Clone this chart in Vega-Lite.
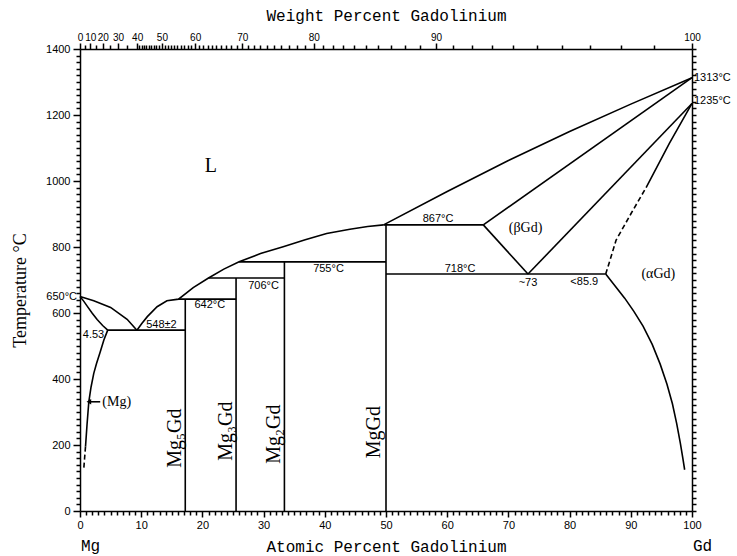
{
  "$schema": "https://vega.github.io/schema/vega-lite/v6.json",
  "width": 612,
  "height": 462,
  "autosize": {"type": "none"},
  "padding": {"left": 80, "top": 49, "right": 45, "bottom": 45},
  "background": "white",
  "config": {
    "view": {"stroke": null},
    "axis": {
      "grid": false,
      "domainColor": "black",
      "domainWidth": 1.5,
      "tickColor": "black",
      "labelColor": "black",
      "labelFont": "Liberation Sans",
      "labelFontSize": 11,
      "labelFlush": false,
      "labelOverlap": false,
      "titleColor": "black",
      "titleFontWeight": "normal"
    }
  },
  "datasets": {
    "solid": [
      {"seg": "mgLiq", "i": 0, "x": 0, "T": 650},
      {"seg": "mgLiq", "i": 1, "x": 2.25, "T": 637},
      {"seg": "mgLiq", "i": 2, "x": 5.0, "T": 617},
      {"seg": "mgLiq", "i": 3, "x": 7.7, "T": 581},
      {"seg": "mgLiq", "i": 4, "x": 9.3, "T": 548},
      {"seg": "mgSol", "i": 0, "x": 0, "T": 650},
      {"seg": "mgSol", "i": 1, "x": 0.6, "T": 636},
      {"seg": "mgSol", "i": 2, "x": 1.2, "T": 620},
      {"seg": "mgSol", "i": 3, "x": 2.0, "T": 599},
      {"seg": "mgSol", "i": 4, "x": 2.8, "T": 580},
      {"seg": "mgSol", "i": 5, "x": 3.7, "T": 562},
      {"seg": "mgSol", "i": 6, "x": 4.53, "T": 548},
      {"seg": "mgSolvus", "i": 0, "x": 4.53, "T": 548},
      {"seg": "mgSolvus", "i": 1, "x": 3.9, "T": 518},
      {"seg": "mgSolvus", "i": 2, "x": 3.3, "T": 482},
      {"seg": "mgSolvus", "i": 3, "x": 2.7, "T": 447},
      {"seg": "mgSolvus", "i": 4, "x": 2.25, "T": 417},
      {"seg": "mgSolvus", "i": 5, "x": 1.8, "T": 375},
      {"seg": "mgSolvus", "i": 6, "x": 1.44, "T": 331},
      {"seg": "mgSolvus", "i": 7, "x": 1.15, "T": 262},
      {"seg": "mgSolvus", "i": 8, "x": 0.9, "T": 195},
      {"seg": "eut548", "i": 0, "x": 4.53, "T": 548},
      {"seg": "eut548", "i": 1, "x": 17.2, "T": 548},
      {"seg": "liq", "i": 0, "x": 9.3, "T": 548},
      {"seg": "liq", "i": 1, "x": 10.1, "T": 568},
      {"seg": "liq", "i": 2, "x": 11.0, "T": 589},
      {"seg": "liq", "i": 3, "x": 12.6, "T": 619},
      {"seg": "liq", "i": 4, "x": 14.2, "T": 637},
      {"seg": "liq", "i": 5, "x": 16.1, "T": 642},
      {"seg": "liq", "i": 6, "x": 18.5, "T": 677},
      {"seg": "liq", "i": 7, "x": 21.0, "T": 706},
      {"seg": "liq", "i": 8, "x": 23.5, "T": 733},
      {"seg": "liq", "i": 9, "x": 26.0, "T": 755},
      {"seg": "liq", "i": 10, "x": 29.5, "T": 780},
      {"seg": "liq", "i": 11, "x": 33.2, "T": 801},
      {"seg": "liq", "i": 12, "x": 36.8, "T": 822},
      {"seg": "liq", "i": 13, "x": 40.3, "T": 841},
      {"seg": "liq", "i": 14, "x": 44.1, "T": 854},
      {"seg": "liq", "i": 15, "x": 47.0, "T": 862},
      {"seg": "liq", "i": 16, "x": 49.6, "T": 867},
      {"seg": "p642", "i": 0, "x": 16.1, "T": 642},
      {"seg": "p642", "i": 1, "x": 25.5, "T": 642},
      {"seg": "p706", "i": 0, "x": 21.0, "T": 706},
      {"seg": "p706", "i": 1, "x": 33.4, "T": 706},
      {"seg": "p755", "i": 0, "x": 26.0, "T": 755},
      {"seg": "p755", "i": 1, "x": 50, "T": 755},
      {"seg": "e867", "i": 0, "x": 49.6, "T": 867},
      {"seg": "e867", "i": 1, "x": 65.9, "T": 867},
      {"seg": "Mg5Gd", "i": 0, "x": 17.2, "T": 0},
      {"seg": "Mg5Gd", "i": 1, "x": 17.2, "T": 642},
      {"seg": "Mg3Gd", "i": 0, "x": 25.5, "T": 0},
      {"seg": "Mg3Gd", "i": 1, "x": 25.5, "T": 706},
      {"seg": "Mg2Gd", "i": 0, "x": 33.4, "T": 0},
      {"seg": "Mg2Gd", "i": 1, "x": 33.4, "T": 755},
      {"seg": "MgGd", "i": 0, "x": 50, "T": 0},
      {"seg": "MgGd", "i": 1, "x": 50, "T": 867},
      {"seg": "e718", "i": 0, "x": 50, "T": 718},
      {"seg": "e718", "i": 1, "x": 85.9, "T": 718},
      {"seg": "liqGd", "i": 0, "x": 49.6, "T": 867},
      {"seg": "liqGd", "i": 1, "x": 60, "T": 968},
      {"seg": "liqGd", "i": 2, "x": 70, "T": 1062},
      {"seg": "liqGd", "i": 3, "x": 80, "T": 1150},
      {"seg": "liqGd", "i": 4, "x": 90, "T": 1233},
      {"seg": "liqGd", "i": 5, "x": 100, "T": 1313},
      {"seg": "solBeta", "i": 0, "x": 65.9, "T": 867},
      {"seg": "solBeta", "i": 1, "x": 100, "T": 1313},
      {"seg": "betaLow", "i": 0, "x": 65.9, "T": 867},
      {"seg": "betaLow", "i": 1, "x": 73.2, "T": 718},
      {"seg": "betaHigh", "i": 0, "x": 73.2, "T": 718},
      {"seg": "betaHigh", "i": 1, "x": 100, "T": 1235},
      {"seg": "alphaBetaTop", "i": 0, "x": 92.5, "T": 980},
      {"seg": "alphaBetaTop", "i": 1, "x": 96.3, "T": 1114},
      {"seg": "alphaBetaTop", "i": 2, "x": 100, "T": 1235},
      {"seg": "alphaSolvus", "i": 0, "x": 85.9, "T": 718},
      {"seg": "alphaSolvus", "i": 1, "x": 87.5, "T": 680},
      {"seg": "alphaSolvus", "i": 2, "x": 89.0, "T": 645},
      {"seg": "alphaSolvus", "i": 3, "x": 90.5, "T": 605},
      {"seg": "alphaSolvus", "i": 4, "x": 92.0, "T": 560},
      {"seg": "alphaSolvus", "i": 5, "x": 93.5, "T": 505},
      {"seg": "alphaSolvus", "i": 6, "x": 94.8, "T": 445},
      {"seg": "alphaSolvus", "i": 7, "x": 95.9, "T": 385},
      {"seg": "alphaSolvus", "i": 8, "x": 96.8, "T": 325},
      {"seg": "alphaSolvus", "i": 9, "x": 97.5, "T": 265},
      {"seg": "alphaSolvus", "i": 10, "x": 98.1, "T": 205},
      {"seg": "alphaSolvus", "i": 11, "x": 98.5, "T": 160},
      {"seg": "alphaSolvus", "i": 12, "x": 98.8, "T": 125},
      {"seg": "arrow", "i": 0, "x": 1.5, "T": 331},
      {"seg": "arrow", "i": 1, "x": 3.3, "T": 331}
    ],
    "dashed": [
      {"seg": "alphaBeta", "i": 0, "x": 85.9, "T": 718},
      {"seg": "alphaBeta", "i": 1, "x": 86.6, "T": 760},
      {"seg": "alphaBeta", "i": 2, "x": 87.6, "T": 821},
      {"seg": "alphaBeta", "i": 3, "x": 90.0, "T": 900},
      {"seg": "alphaBeta", "i": 4, "x": 92.5, "T": 980},
      {"seg": "mgSolvusLow", "i": 0, "x": 0.9, "T": 195},
      {"seg": "mgSolvusLow", "i": 1, "x": 0.75, "T": 160},
      {"seg": "mgSolvusLow", "i": 2, "x": 0.6, "T": 124}
    ],
    "arrowhead": [{"x": 1.45, "T": 331}],
    "labels": [
      {"kind": "temp", "text": "867°C", "x": 58.5, "T": 886},
      {"kind": "temp", "text": "718°C", "x": 62.1, "T": 733},
      {"kind": "temp", "text": "755°C", "x": 40.6, "T": 732},
      {"kind": "temp", "text": "706°C", "x": 30.0, "T": 683},
      {"kind": "temp", "text": "642°C", "x": 21.2, "T": 625},
      {"kind": "temp", "text": "548±2", "x": 13.3, "T": 563},
      {"kind": "temp", "text": "4.53", "x": 2.2, "T": 533},
      {"kind": "temp", "text": "~73", "x": 73.2, "T": 691},
      {"kind": "temp", "text": "<85.9", "x": 82.4, "T": 694},
      {"kind": "left", "text": "650°C", "x": 0, "T": 650},
      {"kind": "right", "text": "1313°C", "x": 100, "T": 1311},
      {"kind": "right", "text": "1235°C", "x": 100, "T": 1243},
      {"kind": "phase", "text": "(βGd)", "x": 72.8, "T": 857},
      {"kind": "phase", "text": "(αGd)", "x": 94.5, "T": 718},
      {"kind": "phase", "text": "(Mg)", "x": 6.0, "T": 331},
      {"kind": "liquid", "text": "L", "x": 21.4, "T": 1045},
      {"kind": "compound", "text": "Mg₅Gd", "x": 15.5, "T": 221},
      {"kind": "compound", "text": "Mg₃Gd", "x": 23.9, "T": 242},
      {"kind": "compound", "text": "Mg₂Gd", "x": 31.7, "T": 233},
      {"kind": "compound", "text": "MgGd", "x": 48.0, "T": 239},
      {"kind": "element", "text": "Mg", "x": 0, "T": 0},
      {"kind": "element", "text": "Gd", "x": 100, "T": 0}
    ]
  },
  "resolve": {
    "scale": {"x": "shared", "y": "shared"},
    "axis": {"x": "independent", "y": "independent"}
  },
  "layer": [
    {
      "data": {"name": "solid"},
      "mark": {"type": "line", "color": "black", "strokeWidth": 1.6, "clip": false},
      "encoding": {
        "x": {
          "field": "x", "type": "quantitative",
          "scale": {"domain": [0, 100], "nice": false, "zero": false},
          "axis": {
            "orient": "bottom",
            "tickCount": 100,
            "labelExpr": "datum.value % 10 == 0 ? format(datum.value, 'd') : ''",
            "tickSize": {"condition": {"test": "datum.value % 10 == 0", "value": 6}, "value": 4},
            "tickWidth": 1.5,
            "labelPadding": 2,
            "title": "Atomic Percent Gadolinium",
            "titleFont": "Liberation Mono",
            "titleFontSize": 16,
            "titleY": 35,
            "titleBaseline": "middle"
          }
        },
        "y": {
          "field": "T", "type": "quantitative",
          "scale": {"domain": [0, 1400], "nice": false, "zero": false},
          "axis": {
            "orient": "left",
            "tickCount": 70,
            "labelExpr": "datum.value % 200 == 0 ? format(datum.value, 'd') : ''",
            "tickSize": {"condition": {"test": "datum.value % 200 == 0", "value": 7}, "value": 4},
            "tickWidth": 1.5,
            "labelPadding": 3,
            "title": "Temperature °C",
            "titleFont": "Liberation Serif",
            "titleFontSize": 18,
            "titleAngle": -90,
            "titleX": -60,
            "titleY": 241,
            "titleAlign": "center",
            "titleBaseline": "middle"
          }
        },
        "detail": {"field": "seg"},
        "order": {"field": "i"}
      }
    },
    {
      "data": {"name": "dashed"},
      "mark": {"type": "line", "color": "black", "strokeWidth": 1.6, "strokeDash": [5, 3], "clip": false},
      "encoding": {
        "x": {
          "field": "x", "type": "quantitative",
          "axis": {
            "orient": "top",
            "values": [0, 0.807, 1.688, 2.655, 3.72, 4.9, 6.213, 7.683, 9.341, 9.699, 10.066, 10.442, 10.829, 11.226, 11.635, 12.054, 12.486, 12.93, 13.387, 13.858, 14.343, 14.842, 15.358, 15.889, 16.438, 17.004, 17.59, 18.195, 18.821, 19.469, 20.14, 20.834, 21.555, 22.303, 23.079, 23.885, 24.724, 25.597, 26.506, 27.453, 28.441, 29.473, 30.552, 31.68, 32.861, 34.1, 35.401, 36.767, 38.205, 39.72, 41.319, 43.008, 44.796, 46.691, 48.704, 50.845, 53.128, 55.567, 58.178, 60.98, 63.996, 67.251, 70.773, 74.598, 78.766, 83.326, 88.336, 93.866, 100],
            "labelExpr": "round(100*datum.value*157.25/(datum.value*157.25+(100-datum.value)*24.305)) % 10 == 0 ? format(round(100*datum.value*157.25/(datum.value*157.25+(100-datum.value)*24.305)), 'd') : ''",
            "tickSize": {"condition": {"test": "round(100*datum.value*157.25/(datum.value*157.25+(100-datum.value)*24.305)) % 10 == 0", "value": 6}, "value": 4},
            "tickWidth": 1.5,
            "labelFontSize": 10,
            "labelPadding": 1,
            "title": "Weight Percent Gadolinium",
            "titleFont": "Liberation Mono",
            "titleFontSize": 16,
            "titleY": -34,
            "titleBaseline": "middle"
          }
        },
        "y": {
          "field": "T", "type": "quantitative",
          "axis": {
            "orient": "right",
            "tickCount": 70,
            "labelExpr": "''",
            "tickSize": 4,
            "tickWidth": 1.5,
            "title": null
          }
        },
        "detail": {"field": "seg"},
        "order": {"field": "i"}
      }
    },
    {
      "data": {"name": "arrowhead"},
      "mark": {"type": "point", "shape": "triangle-left", "filled": true, "color": "black", "size": 28, "opacity": 1},
      "encoding": {
        "x": {"field": "x", "type": "quantitative", "axis": null},
        "y": {"field": "T", "type": "quantitative", "axis": null}
      }
    },
    {
      "data": {"name": "labels"},
      "transform": [{"filter": "datum.kind == 'temp'"}],
      "mark": {"type": "text", "font": "Liberation Sans", "fontSize": 11, "color": "black", "align": "center", "baseline": "middle"},
      "encoding": {
        "x": {"field": "x", "type": "quantitative", "axis": null},
        "y": {"field": "T", "type": "quantitative", "axis": null},
        "text": {"field": "text"}
      }
    },
    {
      "data": {"name": "labels"},
      "transform": [{"filter": "datum.kind == 'left'"}],
      "mark": {"type": "text", "font": "Liberation Sans", "fontSize": 11, "color": "black", "align": "right", "baseline": "middle", "dx": -3},
      "encoding": {
        "x": {"field": "x", "type": "quantitative", "axis": null},
        "y": {"field": "T", "type": "quantitative", "axis": null},
        "text": {"field": "text"}
      }
    },
    {
      "data": {"name": "labels"},
      "transform": [{"filter": "datum.kind == 'right'"}],
      "mark": {"type": "text", "font": "Liberation Sans", "fontSize": 11, "color": "black", "align": "left", "baseline": "middle", "dx": 2},
      "encoding": {
        "x": {"field": "x", "type": "quantitative", "axis": null},
        "y": {"field": "T", "type": "quantitative", "axis": null},
        "text": {"field": "text"}
      }
    },
    {
      "data": {"name": "labels"},
      "transform": [{"filter": "datum.kind == 'phase'"}],
      "mark": {"type": "text", "font": "Liberation Serif", "fontSize": 14, "color": "black", "align": "center", "baseline": "middle"},
      "encoding": {
        "x": {"field": "x", "type": "quantitative", "axis": null},
        "y": {"field": "T", "type": "quantitative", "axis": null},
        "text": {"field": "text"}
      }
    },
    {
      "data": {"name": "labels"},
      "transform": [{"filter": "datum.kind == 'liquid'"}],
      "mark": {"type": "text", "font": "Liberation Serif", "fontSize": 20, "color": "black", "align": "center", "baseline": "middle"},
      "encoding": {
        "x": {"field": "x", "type": "quantitative", "axis": null},
        "y": {"field": "T", "type": "quantitative", "axis": null},
        "text": {"field": "text"}
      }
    },
    {
      "data": {"name": "labels"},
      "transform": [{"filter": "datum.kind == 'compound'"}],
      "mark": {"type": "text", "font": "Liberation Serif", "fontSize": 20, "color": "black", "align": "center", "baseline": "middle", "angle": 270},
      "encoding": {
        "x": {"field": "x", "type": "quantitative", "axis": null},
        "y": {"field": "T", "type": "quantitative", "axis": null},
        "text": {"field": "text"}
      }
    },
    {
      "data": {"name": "labels"},
      "transform": [{"filter": "datum.kind == 'element'"}],
      "mark": {"type": "text", "font": "Liberation Mono", "fontSize": 16, "color": "black", "align": "left", "baseline": "middle", "dy": 35, "dx": 1},
      "encoding": {
        "x": {"field": "x", "type": "quantitative", "axis": null},
        "y": {"field": "T", "type": "quantitative", "axis": null},
        "text": {"field": "text"}
      }
    }
  ]
}
